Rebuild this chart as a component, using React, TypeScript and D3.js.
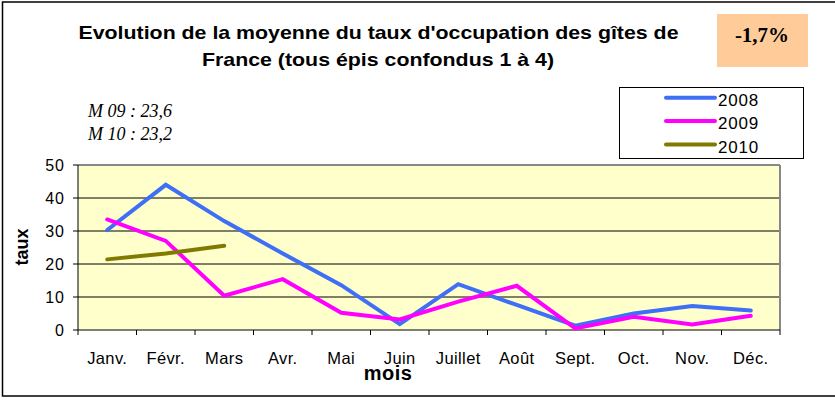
import React from "react";
import * as d3 from "d3";

const months = ["Janv.", "Févr.", "Mars", "Avr.", "Mai", "Juin", "Juillet", "Août", "Sept.", "Oct.", "Nov.", "Déc."];
const values2008 = [30.3, 44, 33, 23.2, 13.6, 1.8, 13.9, 7.6, 1.3, 5.0, 7.3, 5.9];
const values2009 = [33.5, 27, 10.4, 15.4, 5.2, 3.2, 8.6, 13.4, 0.5, 4.0, 1.7, 4.3];
const values2010 = [21.4, 23.2, 25.5];
const yTicks = [0, 10, 20, 30, 40, 50];
const seriesNames = ["2008", "2009", "2010"];
const seriesColors = ["#3f6ff5", "#ff00ff", "#807a00"];
const titleLines = ["Evolution de la moyenne du taux d'occupation des gîtes de", "France (tous épis confondus 1 à 4)"];
const notes = ["M 09 : 23,6", "M 10 : 23,2"];
const badge = "-1,7%";

export default function App() {
  const W = 835, H = 405;
  const left = 78, right = 780, top = 165, bottom = 330;
  const x = d3.scaleBand<string>().domain(months).range([left, right]).padding(0);
  const y = d3.scaleLinear().domain([0, 50]).range([bottom, top]);
  const cx = (m: string) => (x(m) as number) + x.bandwidth() / 2;
  const line = d3.line<[string, number]>().x(d => cx(d[0])).y(d => y(d[1]));
  const series = [values2008, values2009, values2010];
  const font = "Arial, 'Liberation Sans', sans-serif";
  const serif = "'Times New Roman', 'Liberation Serif', serif";
  const titleSpecs = [{ x: 78.5, w: 600, y: 38.5 }, { x: 202, w: 352, y: 65.5 }];

  return (
    <svg width={W} height={H} style={{ position: "absolute", left: 0, top: 0, display: "block" }}>
      <rect x={0} y={0} width={W} height={H} fill="#fff" />
      <rect x={2.5} y={2} width={W + 10} height={394} fill="none" stroke="#000" strokeWidth={1.5} />
      {titleLines.map((t, i) => (
        <text key={i} x={titleSpecs[i].x} y={titleSpecs[i].y} textLength={titleSpecs[i].w} lengthAdjust="spacingAndGlyphs" fontFamily={font} fontWeight="bold" fontSize={18.5} fill="#000">{t}</text>
      ))}
      <rect x={717} y={14} width={91} height={53} fill="#ffcc99" />
      <text x={762} y={42} textAnchor="middle" fontFamily={serif} fontWeight="bold" fontSize={21} fill="#000">{badge}</text>
      {notes.map((t, i) => (
        <text key={i} x={88} y={116.5 + i * 23.5} fontFamily={serif} fontStyle="italic" fontSize={18} fill="#000">{t}</text>
      ))}
      {/* legend */}
      <rect x={619.5} y={87.5} width={184} height={71} fill="#fff" stroke="#000" strokeWidth={1} />
      {seriesNames.map((n, i) => (
        <g key={n}>
          <line x1={666} x2={715} y1={97.8 + i * 23.3} y2={97.8 + i * 23.3} stroke={seriesColors[i]} strokeWidth={4} strokeLinecap="round" />
          <text x={718} y={106 + i * 23.3} fontFamily={font} fontSize={17} letterSpacing={0.8} fill="#000">{n}</text>
        </g>
      ))}
      {/* plot area */}
      <rect x={left} y={top} width={right - left} height={bottom - top} fill="#ffffcc" />
      {yTicks.slice(1, -1).map(t => (
        <line key={t} x1={left} x2={right} y1={y(t)} y2={y(t)} stroke="#000" strokeWidth={1} />
      ))}
      <line x1={left} x2={right} y1={top} y2={top} stroke="#888" strokeWidth={2} />
      <line x1={right} x2={right} y1={top} y2={bottom} stroke="#888" strokeWidth={2} />
      <line x1={left} x2={left} y1={top} y2={bottom} stroke="#000" strokeWidth={1} />
      <line x1={left} x2={right} y1={bottom} y2={bottom} stroke="#000" strokeWidth={1} />
      {yTicks.map(t => (
        <g key={t}>
          <line x1={left - 5} x2={left} y1={y(t)} y2={y(t)} stroke="#000" />
          <text x={65} y={y(t) + 5.5} textAnchor="end" fontFamily={font} fontSize={16} letterSpacing={1} fill="#000">{t}</text>
        </g>
      ))}
      {months.map((m, i) => (
        <line key={"t" + i} x1={x(m) as number} x2={x(m) as number} y1={bottom} y2={bottom + 5} stroke="#000" />
      ))}
      <line x1={right} x2={right} y1={bottom} y2={bottom + 5} stroke="#000" />
      {months.map(m => (
        <text key={m} x={cx(m)} y={363.5} textAnchor="middle" fontFamily={font} fontSize={16.5} letterSpacing={0.4} fill="#000">{m}</text>
      ))}
      {series.map((s, i) => (
        <path key={i} d={line(s.map((v, j) => [months[j], v] as [string, number])) || ""} fill="none" stroke={seriesColors[i]} strokeWidth={4} strokeLinejoin="miter" strokeLinecap="round" />
      ))}
      <text x={388} y={380} textAnchor="middle" fontFamily={font} fontWeight="bold" fontSize={20} letterSpacing={0.5} fill="#000">mois</text>
      <text transform="translate(28,247) rotate(-90)" textAnchor="middle" fontFamily={font} fontWeight="bold" fontSize={18} fill="#000">taux</text>
    </svg>
  );
}
